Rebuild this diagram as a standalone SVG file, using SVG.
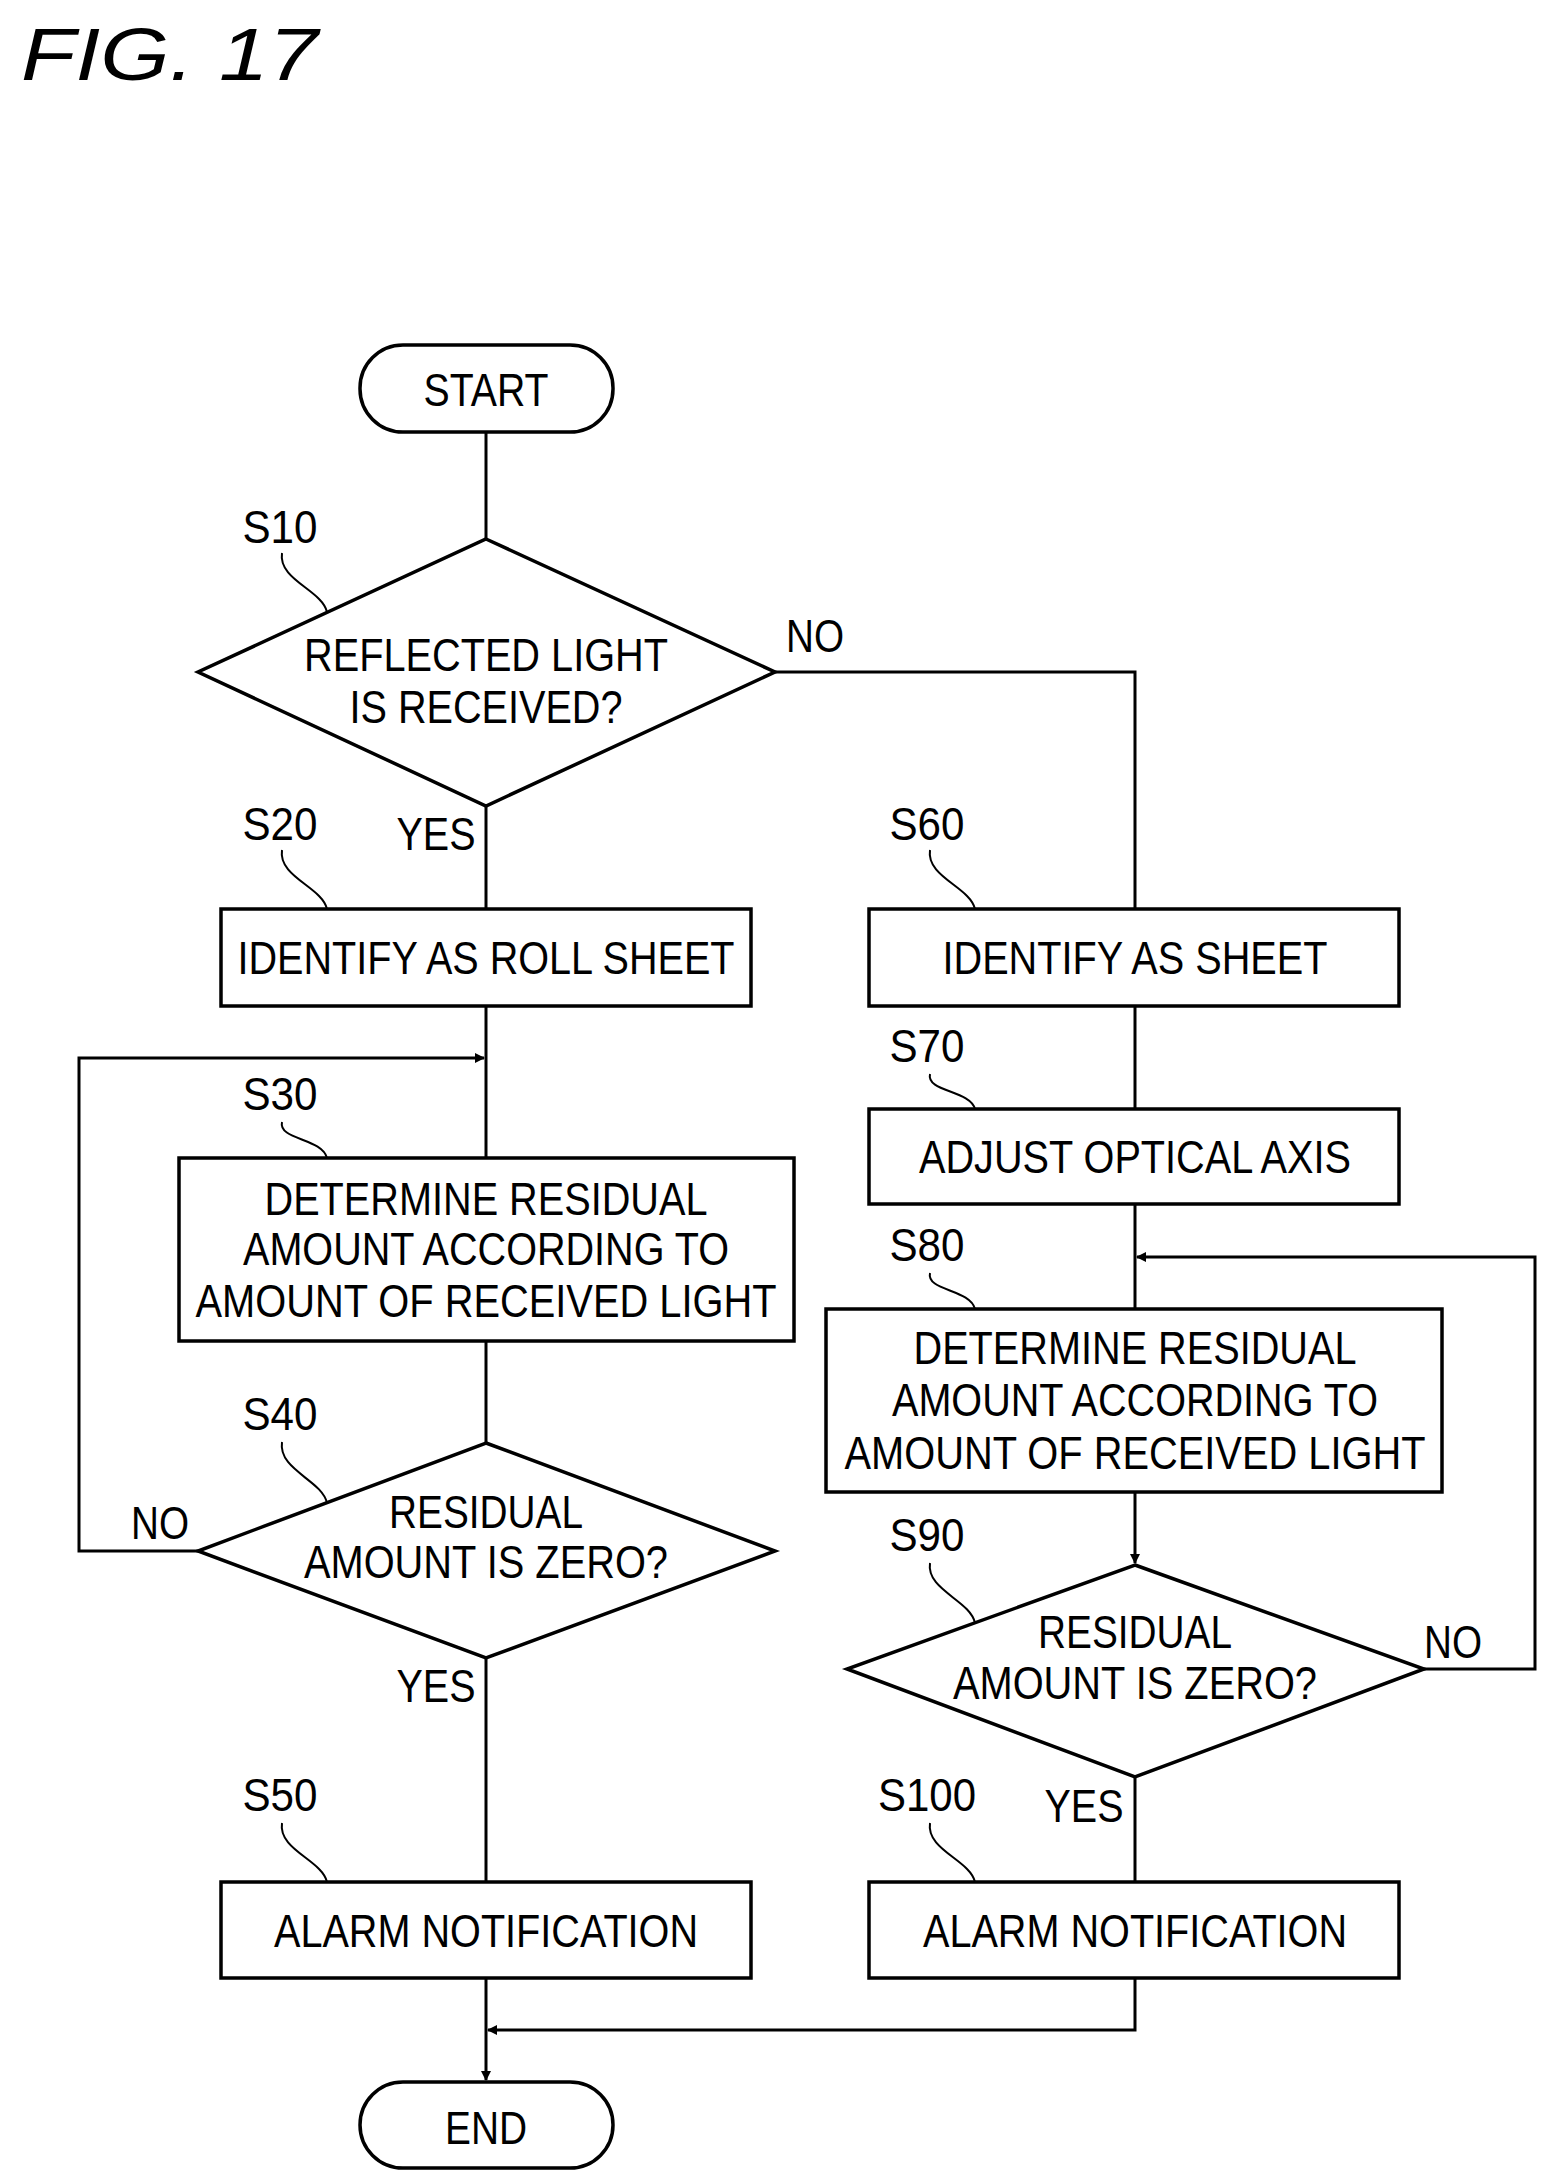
<svg xmlns="http://www.w3.org/2000/svg" width="1564" height="2180" viewBox="0 0 1564 2180">
<style>
text{font-family:"Liberation Sans",Arial,sans-serif;font-size:46px;fill:#000;text-anchor:middle}
.s{fill:#fff;stroke:#000;stroke-width:3.5}
.c{fill:none;stroke:#000;stroke-width:3}
.q{fill:none;stroke:#000;stroke-width:2}
</style>
<defs><marker id="a" markerWidth="10" markerHeight="10" refX="9" refY="5" orient="auto" markerUnits="userSpaceOnUse" viewBox="0 0 10 10"><path d="M0,0 L10,5 L0,10 z" fill="#000"/></marker></defs>
<rect width="1564" height="2180" fill="#fff"/>
<text x="21" y="80" style="font-size:74px;font-style:italic;text-anchor:start" textLength="297" lengthAdjust="spacingAndGlyphs">FIG. 17</text>
<g id="connectors">
<path class="c" d="M486,432 V539"/>
<path class="c" d="M775,672 H1135 V909"/>
<path class="c" d="M486,806 V909"/>
<path class="c" d="M486,1006 V1158"/>
<path class="c" d="M198,1551 H79 V1058 H484" marker-end="url(#a)"/>
<path class="c" d="M486,1341 V1443"/>
<path class="c" d="M486,1658 V1882"/>
<path class="c" d="M1135,1006 V1109"/>
<path class="c" d="M1135,1204 V1309"/>
<path class="c" d="M1424,1669 H1535 V1257 H1137" marker-end="url(#a)"/>
<path class="c" d="M1135,1492 V1563" marker-end="url(#a)"/>
<path class="c" d="M1135,1777 V1882"/>
<path class="c" d="M1135,1978 V2030 H488" marker-end="url(#a)"/>
<path class="c" d="M486,1978 V2080" marker-end="url(#a)"/>
<path class="q" d="M282,553 C278,580 322,590 327,612"/>
<path class="q" d="M282,850 C278,877 322,887 327,909"/>
<path class="q" d="M282,1122 C278,1140 322,1138 327,1158"/>
<path class="q" d="M282,1442 C278,1470 322,1480 327,1503"/>
<path class="q" d="M282,1823 C278,1850 322,1860 327,1882"/>
<path class="q" d="M930,850 C926,877 970,887 975,909"/>
<path class="q" d="M930,1074 C926,1092 970,1090 975,1109"/>
<path class="q" d="M930,1273 C926,1291 970,1289 975,1309"/>
<path class="q" d="M930,1563 C926,1590 970,1600 975,1623"/>
<path class="q" d="M930,1823 C926,1850 970,1860 975,1882"/>
</g>
<g id="start"><rect class="s" x="360" y="345" width="253" height="87" rx="43"/><text x="486" y="406" textLength="125" lengthAdjust="spacingAndGlyphs">START</text></g>
<g id="s10"><path class="s" d="M486,539 L775,672 L486,806 L198,672 z"/><text x="486" y="671" textLength="364" lengthAdjust="spacingAndGlyphs">REFLECTED LIGHT</text><text x="486" y="723" textLength="273" lengthAdjust="spacingAndGlyphs">IS RECEIVED?</text><text x="280" y="543" textLength="75" lengthAdjust="spacingAndGlyphs">S10</text></g>
<g id="s20"><rect class="s" x="221" y="909" width="530" height="97"/><text x="486" y="974" textLength="497" lengthAdjust="spacingAndGlyphs">IDENTIFY AS ROLL SHEET</text><text x="280" y="840" textLength="75" lengthAdjust="spacingAndGlyphs">S20</text></g>
<g id="s30"><rect class="s" x="179" y="1158" width="615" height="183"/><text x="486" y="1215" textLength="443" lengthAdjust="spacingAndGlyphs">DETERMINE RESIDUAL</text><text x="486" y="1265" textLength="486" lengthAdjust="spacingAndGlyphs">AMOUNT ACCORDING TO</text><text x="486" y="1317" textLength="581" lengthAdjust="spacingAndGlyphs">AMOUNT OF RECEIVED LIGHT</text><text x="280" y="1110" textLength="75" lengthAdjust="spacingAndGlyphs">S30</text></g>
<g id="s40"><path class="s" d="M486,1443 L775,1551 L486,1658 L198,1551 z"/><text x="486" y="1528" textLength="194" lengthAdjust="spacingAndGlyphs">RESIDUAL</text><text x="486" y="1578" textLength="364" lengthAdjust="spacingAndGlyphs">AMOUNT IS ZERO?</text><text x="280" y="1430" textLength="75" lengthAdjust="spacingAndGlyphs">S40</text></g>
<g id="s50"><rect class="s" x="221" y="1882" width="530" height="96"/><text x="486" y="1947" textLength="424" lengthAdjust="spacingAndGlyphs">ALARM NOTIFICATION</text><text x="280" y="1811" textLength="75" lengthAdjust="spacingAndGlyphs">S50</text></g>
<g id="s60"><rect class="s" x="869" y="909" width="530" height="97"/><text x="1135" y="974" textLength="385" lengthAdjust="spacingAndGlyphs">IDENTIFY AS SHEET</text><text x="927" y="840" textLength="75" lengthAdjust="spacingAndGlyphs">S60</text></g>
<g id="s70"><rect class="s" x="869" y="1109" width="530" height="95"/><text x="1135" y="1173" textLength="432" lengthAdjust="spacingAndGlyphs">ADJUST OPTICAL AXIS</text><text x="927" y="1062" textLength="75" lengthAdjust="spacingAndGlyphs">S70</text></g>
<g id="s80"><rect class="s" x="826" y="1309" width="616" height="183"/><text x="1135" y="1364" textLength="443" lengthAdjust="spacingAndGlyphs">DETERMINE RESIDUAL</text><text x="1135" y="1416" textLength="486" lengthAdjust="spacingAndGlyphs">AMOUNT ACCORDING TO</text><text x="1135" y="1469" textLength="581" lengthAdjust="spacingAndGlyphs">AMOUNT OF RECEIVED LIGHT</text><text x="927" y="1261" textLength="75" lengthAdjust="spacingAndGlyphs">S80</text></g>
<g id="s90"><path class="s" d="M1135,1565 L1424,1669 L1135,1777 L847,1669 z"/><text x="1135" y="1648" textLength="194" lengthAdjust="spacingAndGlyphs">RESIDUAL</text><text x="1135" y="1699" textLength="364" lengthAdjust="spacingAndGlyphs">AMOUNT IS ZERO?</text><text x="927" y="1551" textLength="75" lengthAdjust="spacingAndGlyphs">S90</text></g>
<g id="s100"><rect class="s" x="869" y="1882" width="530" height="96"/><text x="1135" y="1947" textLength="424" lengthAdjust="spacingAndGlyphs">ALARM NOTIFICATION</text><text x="927" y="1811" textLength="98" lengthAdjust="spacingAndGlyphs">S100</text></g>
<g id="end"><rect class="s" x="360" y="2082" width="253" height="86" rx="43"/><text x="486" y="2144" textLength="82" lengthAdjust="spacingAndGlyphs">END</text></g>
<g id="labels">
<text x="815" y="652" textLength="58" lengthAdjust="spacingAndGlyphs">NO</text>
<text x="436" y="850" textLength="79" lengthAdjust="spacingAndGlyphs">YES</text>
<text x="160" y="1539" textLength="58" lengthAdjust="spacingAndGlyphs">NO</text>
<text x="436" y="1702" textLength="79" lengthAdjust="spacingAndGlyphs">YES</text>
<text x="1453" y="1658" textLength="58" lengthAdjust="spacingAndGlyphs">NO</text>
<text x="1084" y="1822" textLength="79" lengthAdjust="spacingAndGlyphs">YES</text>
</g>
</svg>
